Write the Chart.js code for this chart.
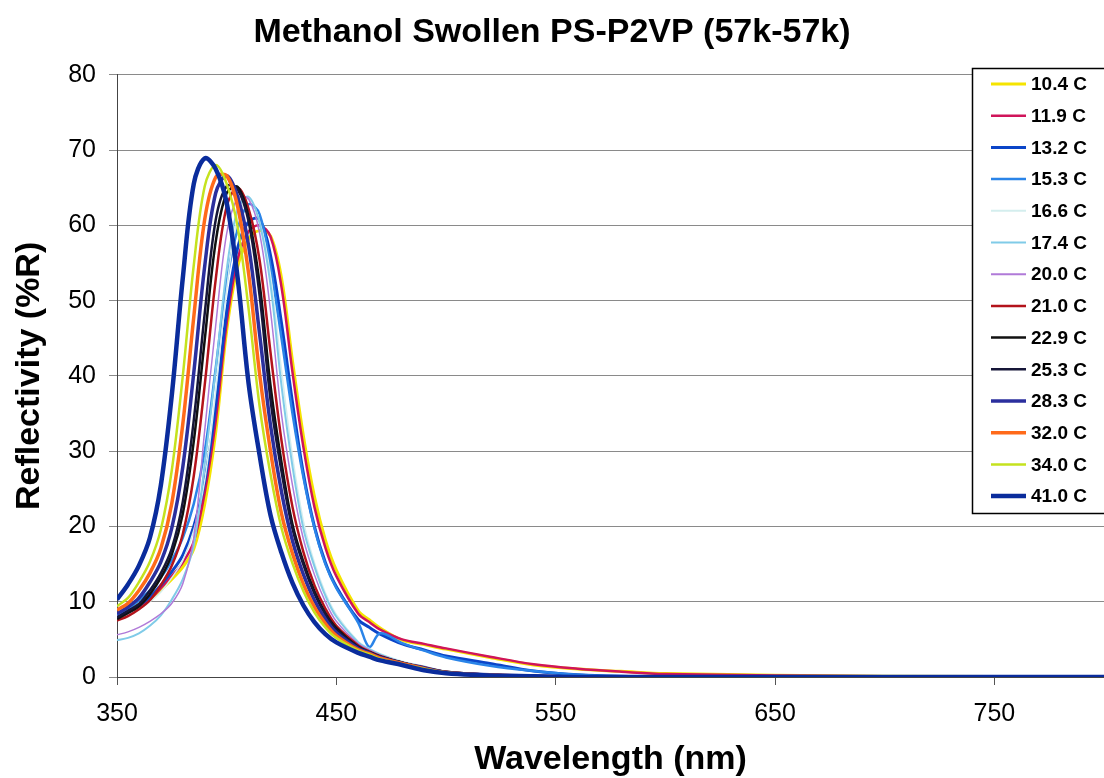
<!DOCTYPE html>
<html>
<head>
<meta charset="utf-8">
<title>Methanol Swollen PS-P2VP (57k-57k)</title>
<script src="https://cdn.jsdelivr.net/npm/chart.js@4.4.1/dist/chart.umd.min.js"></script>
<style>
  html, body { margin: 0; padding: 0; background: #fff; }
  #wrap { width: 1104px; height: 778px; }
</style>
</head>
<body>
<div id="wrap"><canvas id="reflectivity" width="1104" height="778"></canvas></div>
<script>
// wavelength grid (nm) shared by every series
const wavelengths = [350, 355, 360, 365, 370, 375, 380, 385, 390, 395, 400, 405, 410, 415, 420, 425, 430, 435, 440, 445, 450,
    460, 465, 470, 480, 490, 500, 520, 540, 560, 580, 600, 700, 800];
const xTicks = [350, 450, 550, 650, 750];
const temperatures = ['10.4 C', '11.9 C', '13.2 C', '15.3 C', '16.6 C', '17.4 C', '20.0 C',
    '21.0 C', '22.9 C', '25.3 C', '28.3 C', '32.0 C', '34.0 C', '41.0 C'];

// reflectivity (%R), one array per temperature
const r104 = [8.3, 8.9, 9.6, 10.2, 11.6, 13, 14.6, 17, 23, 32.5, 46, 54.5, 58.2, 59.3, 58.6, 53, 42, 32, 24, 18.2, 14.2,
    8.8, 7.6, 6.5, 4.9, 4.3, 3.7, 2.6, 1.6, 1.05, 0.75, 0.45, 0.1, 0.05];
const r119 = [8.0, 8.6, 9.4, 10.3, 11.8, 13.4, 15.2, 18, 24.5, 34, 47, 55.5, 59.2, 60, 58.5, 51.8, 40.5, 30.5, 22.6, 17.2, 13.4,
    8.4, 7.3, 6.3, 5.0, 4.4, 3.8, 2.7, 1.7, 1.1, 0.7, 0.4, 0.1, 0];
const r132 = [7.8, 8.5, 9.5, 10.6, 12.2, 14, 16.2, 20, 26, 36, 48.5, 57, 60.5, 60.8, 56, 47, 36.5, 27, 20, 15.2, 12,
    7.6, 6.6, 5.7, 4.4, 3.6, 2.8, 1.8, 0.8, 0.3, 0.1, 0.05, 0, 0];
const r153 = [8.2, 9, 10.2, 11.5, 13.2, 15.5, 18.5, 23, 30, 41, 52.5, 59.5, 62.8, 61.5, 54.5, 45, 35, 26.5, 19.8, 15, 11.8,
    7.2, 4.0, 5.8, 4.5, 3.5, 2.6, 1.5, 0.8, 0.3, 0.1, 0, 0, 0];
const r166 = [7.6, 8.2, 9.0, 10.0, 11.3, 13.2, 15.5, 19.5, 26.1, 37.9, 51.5, 61.0, 63.5, 60.6, 53.4, 40.8, 29.4, 20.7, 15.2, 11.2, 8.3,
    4.7, 3.8, 3.1, 2.1, 1.4, 0.8, 0.3, 0.1, 0, 0, 0, 0, 0];
const r174 = [4.9, 5.2, 5.8, 6.8, 8.2, 10.3, 13.0, 17.5, 28.3, 40.8, 54.1, 62.1, 63.8, 60.3, 52.1, 38.7, 28.0, 19.7, 14.7, 10.8, 8.0,
    4.6, 3.7, 3.0, 2.0, 1.4, 0.7, 0.3, 0.1, 0, 0, 0, 0, 0];
const r200 = [5.6, 6.0, 6.6, 7.4, 8.4, 9.8, 12.4, 18.5, 32.8, 46.7, 58.9, 63.6, 63.5, 59.0, 48.6, 34.9, 25.5, 18.3, 13.6, 10.0, 7.4,
    4.4, 3.6, 2.9, 2.0, 1.3, 0.7, 0.3, 0.1, 0, 0, 0, 0, 0];
const r210 = [7.5, 8.1, 9.0, 10.2, 12.2, 14.8, 19.0, 26.7, 38.8, 52.8, 62.5, 65.0, 62.2, 55.4, 43.1, 31.4, 22.6, 16.6, 12.2, 9.1, 6.8,
    4.2, 3.4, 2.8, 1.9, 1.3, 0.7, 0.3, 0.1, 0, 0, 0, 0, 0];
const r229 = [7.7, 8.5, 9.4, 11.0, 13.2, 16.3, 21.7, 31.3, 44.8, 57.8, 64.3, 65.1, 61.1, 52.3, 38.7, 28.5, 20.3, 15.3, 11.4, 8.5, 6.5,
    4.0, 3.3, 2.7, 1.9, 1.2, 0.6, 0.3, 0.1, 0, 0, 0, 0, 0];
const r253 = [7.9, 8.8, 9.7, 11.5, 13.8, 17.1, 23.3, 34.1, 48.3, 60.7, 65.2, 64.8, 60.5, 50.7, 36.8, 27.3, 19.7, 14.9, 11.1, 8.3, 6.3,
    4.0, 3.3, 2.7, 1.9, 1.2, 0.7, 0.3, 0.1, 0, 0, 0, 0, 0];
const r283 = [8.4, 9.3, 10.5, 12.6, 15.3, 19.8, 27.9, 40.4, 54.6, 64.3, 66.6, 63.8, 57.3, 45.6, 33.4, 24.6, 18.1, 13.6, 10.2, 7.7, 5.9,
    3.8, 3.2, 2.6, 1.8, 1.2, 0.6, 0.3, 0.1, 0, 0, 0, 0, 0];
const r320 = [8.9, 9.8, 11.5, 13.8, 17.1, 23.1, 33.6, 47.8, 60.8, 66.4, 66.6, 62.5, 53.6, 40.3, 30.0, 21.7, 16.4, 12.3, 9.3, 7.1, 5.5,
    3.6, 3.1, 2.5, 1.8, 1.1, 0.6, 0.25, 0.1, 0, 0, 0, 0, 0];
const r340 = [9.4, 10.5, 12.6, 15.3, 19.6, 27.5, 40.0, 54.7, 65.2, 68.0, 65.5, 59.8, 48.9, 36.0, 26.9, 19.8, 15.1, 11.4, 8.6, 6.6, 5.2,
    3.5, 3.0, 2.4, 1.7, 1.1, 0.6, 0.2, 0.1, 0, 0, 0, 0, 0];
const r410 = [10.3, 12.3, 14.8, 18.5, 25.5, 37.5, 53, 65.5, 68.9, 67.5, 63, 53, 39, 29.5, 21.5, 16.5, 12.5, 9.5, 7.3, 5.7, 4.6,
    3.2, 2.7, 2.2, 1.6, 0.9, 0.5, 0.2, 0.1, 0, 0, 0, 0, 0];

const seriesValues = [r104, r119, r132, r153, r166, r174, r200, r210, r229, r253, r283, r320, r340, r410];
const seriesColors = ['#f5e400', '#d0145a', '#0b45c8', '#2a84e8', '#d4eeee', '#80cbe8', '#b07ad8',
    '#b3131b', '#111111', '#161638', '#2b2f9e', '#ff6a1a', '#c5e21e', '#0a2c9c'];
const seriesWidths = [3, 2.5, 3, 2.5, 1.5, 2, 1.5, 2.5, 2.5, 2.5, 3.5, 3.5, 2.5, 4.5];

const FONT = '"Liberation Sans", Arial, Helvetica, sans-serif';

// boxed legend sitting on top of the plot, top right
const legendBox = {
    id: 'legendBox',
    afterDraw(chart) {
        const ctx = chart.ctx;
        ctx.save();
        ctx.fillStyle = '#fff';
        ctx.fillRect(972, 68, 140, 445);
        ctx.strokeStyle = '#000';
        ctx.lineWidth = 1.5;
        ctx.strokeRect(972.5, 68.5, 150, 445);
        ctx.font = 'bold 19px ' + FONT;
        ctx.textBaseline = 'middle';
        chart.data.datasets.forEach((ds, i) => {
            const y = 84 + i * 31.7;
            ctx.strokeStyle = ds.borderColor;
            ctx.lineWidth = Math.max(ds.borderWidth, 2);
            ctx.beginPath();
            ctx.moveTo(991, y);
            ctx.lineTo(1026, y);
            ctx.stroke();
            ctx.fillStyle = '#000';
            ctx.fillText(ds.label, 1031, y + 1);
        });
        ctx.restore();
    }
};

new Chart(document.getElementById('reflectivity'), {
    type: 'line',
    data: {
        datasets: temperatures.map((t, i) => ({
            label: t,
            data: wavelengths.map((w, j) => ({ x: w, y: seriesValues[i][j] })),
            borderColor: seriesColors[i],
            borderWidth: seriesWidths[i],
            pointRadius: 0,
            tension: 0.35,
            fill: false,
            order: temperatures.length - i
        }))
    },
    options: {
        responsive: false,
        animation: false,
        devicePixelRatio: 1,
        layout: { padding: 0 },
        plugins: {
            legend: { display: false },
            tooltip: { enabled: false },
            title: {
                display: true,
                text: 'Methanol Swollen PS-P2VP (57k-57k)',
                color: '#000',
                font: { family: FONT, size: 34, weight: 'bold' },
                padding: { top: 12, bottom: 22 }
            }
        },
        scales: {
            x: {
                type: 'linear',
                min: 350,
                max: 800,
                afterBuildTicks: (scale) => { scale.ticks = xTicks.map(v => ({ value: v })); },
                afterFit: (scale) => { scale.height = 101; },
                grid: { drawOnChartArea: false, drawTicks: true, tickLength: 8, color: '#555' },
                border: { color: '#444', width: 1 },
                ticks: { color: '#000', font: { family: FONT, size: 25 }, padding: 14, maxRotation: 0, autoSkip: false },
                title: {
                    display: true,
                    text: 'Wavelength (nm)',
                    color: '#000',
                    font: { family: FONT, size: 34, weight: 'bold', lineHeight: 1 },
                    padding: { top: 0, bottom: 1 }
                }
            },
            y: {
                min: 0,
                max: 80,
                afterFit: (scale) => { scale.width = 117; },
                ticks: { stepSize: 10, color: '#000', font: { family: FONT, size: 25 }, padding: 13 },
                grid: { color: '#8a8a8a', lineWidth: 1, tickLength: 8 },
                border: { color: '#444', width: 1 },
                title: {
                    display: true,
                    text: 'Reflectivity (%R)',
                    color: '#000',
                    font: { family: FONT, size: 34, weight: 'bold', lineHeight: 1 },
                    padding: { top: 13, bottom: 0 }
                }
            }
        }
    },
    plugins: [legendBox]
});
</script>
</body>
</html>
